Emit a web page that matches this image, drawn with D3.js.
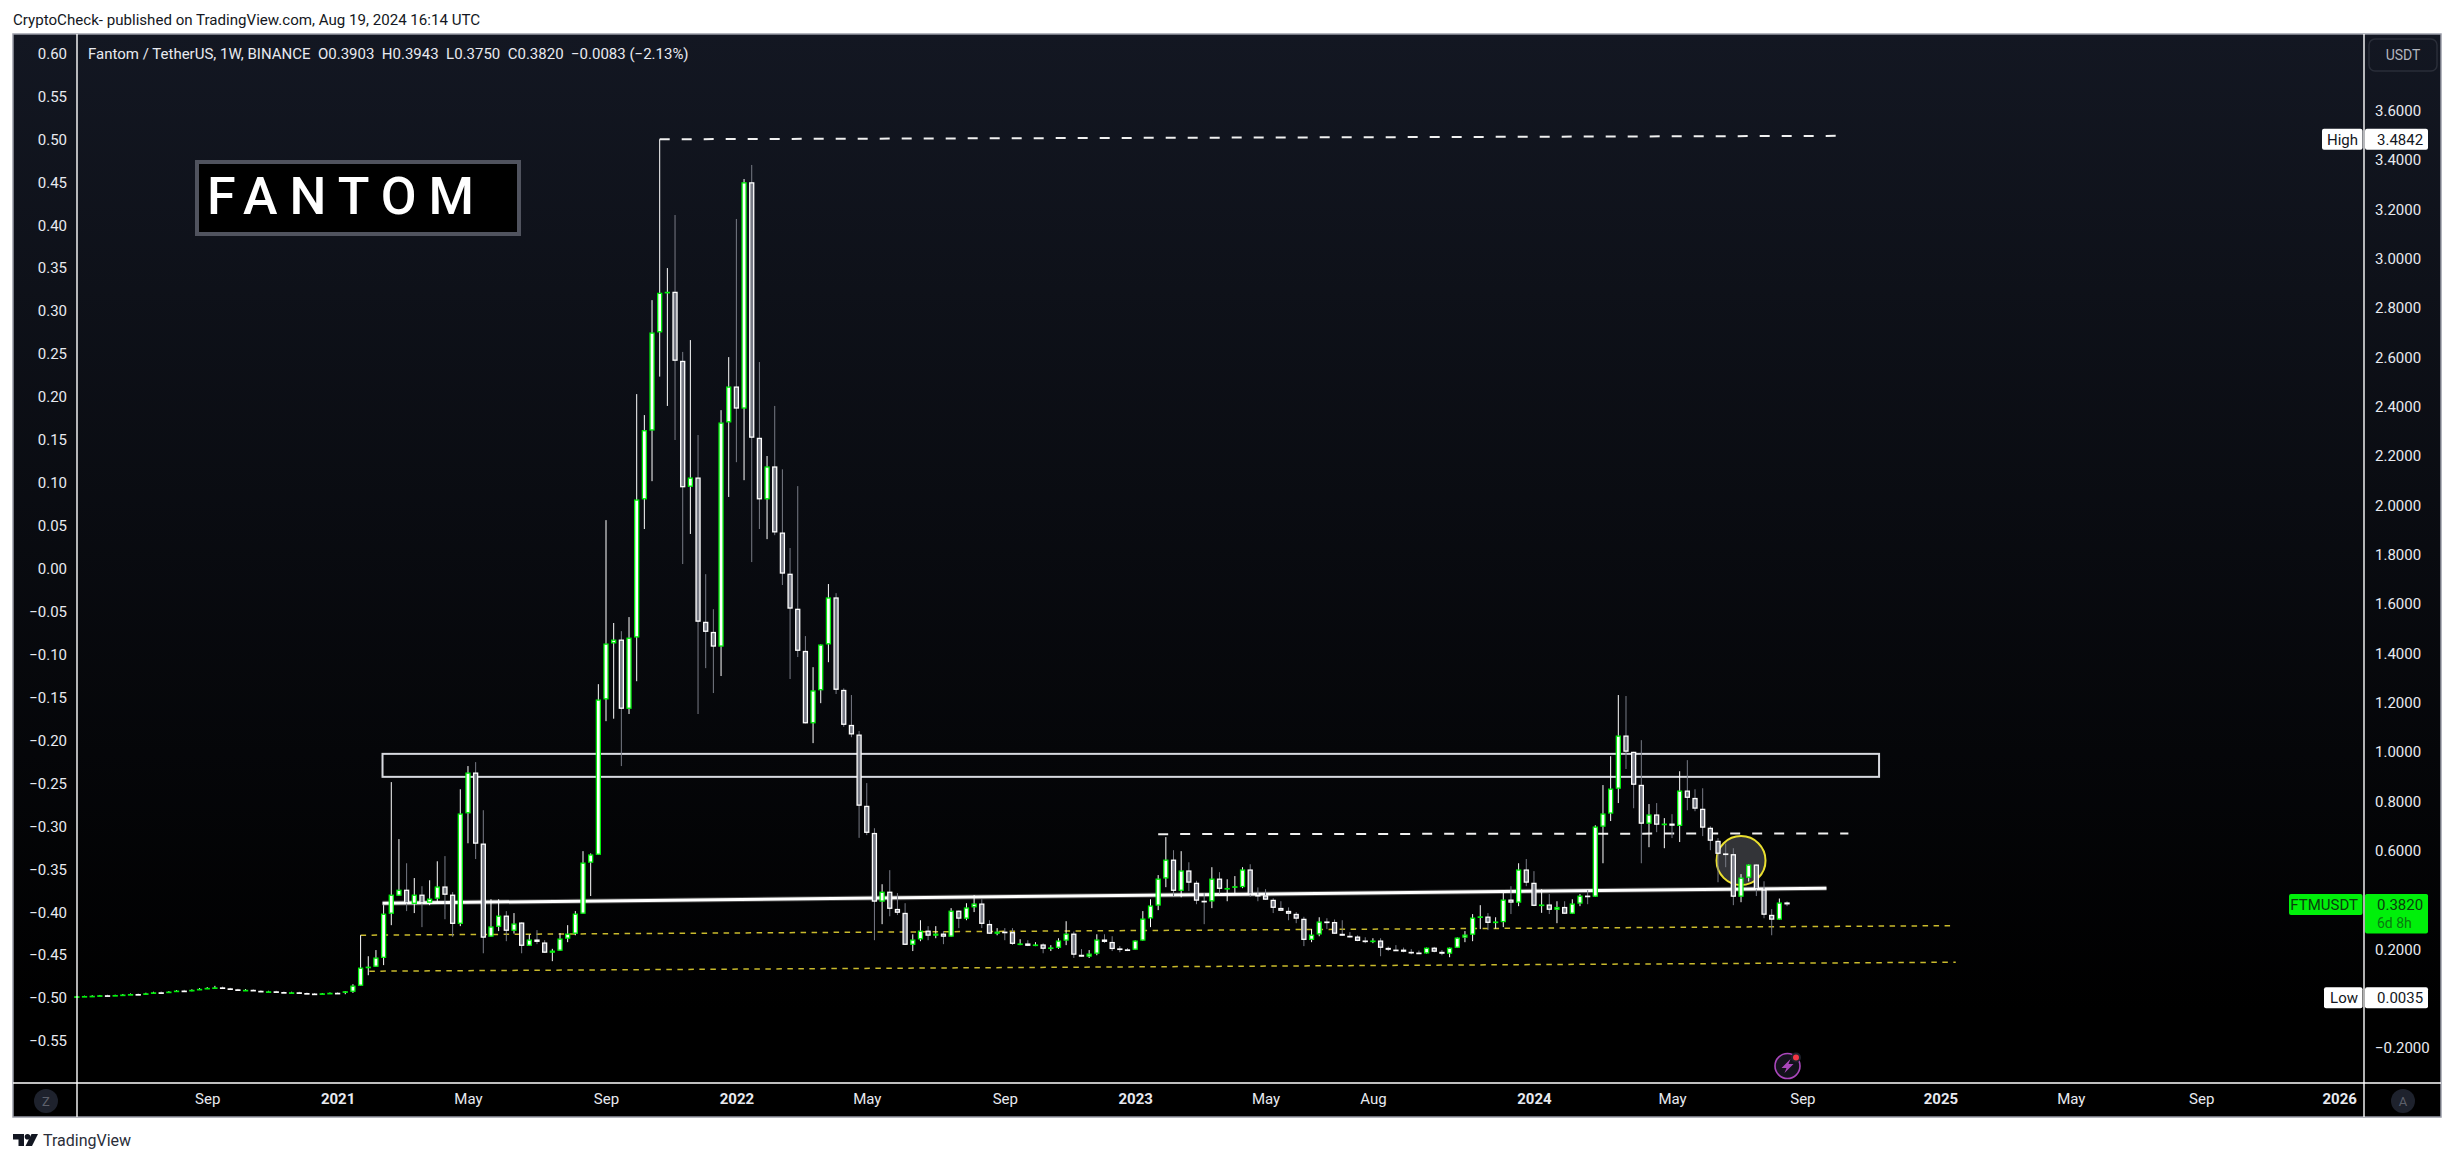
<!DOCTYPE html>
<html>
<head>
<meta charset="utf-8">
<title>Fantom / TetherUS</title>
<script src="https://cdn.jsdelivr.net/npm/d3@7"></script>
<style>
  html, body { margin: 0; padding: 0; background: #fff; }
  svg { display: block; }
  text { font-family: Roboto, "Noto Sans", sans-serif; }
</style>
</head>
<body>
<svg id="chart" width="2454" height="1162"></svg>
<script>
// weekly candles, first one is the week of 2020-05-11
const firstWeek = new Date(Date.UTC(2020, 4, 11));

const opens = [
  .008,.010,.011,.012,.014,.013,.015,.017,.019,.018,.022,.026,.025,.029,.033,.031,.036,.040,.044,.046,.042,.038,.035,.036,.032,.029,.030,.027,.025,.026,.023,.021,.020,.022,.024,
  .0235,.0276,.0519,.125,.129,.165,.344,.417,.442,.384,.422,.389,.405,.455,.422,.303,.751,.917,.629,.251,.291,.337,.275,.309,.214,.240,.228,.186,.194,.243,.263,.344,.551,.583,
  1.213,1.440,1.456,1.175,1.464,2.024,2.303,2.701,2.862,2.866,2.586,2.075,2.113,1.528,1.487,1.427,2.336,2.482,2.392,3.310,2.274,2.024,2.158,1.890,1.723,1.581,1.410,1.116,1.250,1.436,1.627,1.252,1.110,
  1.071,.782,.672,.393,.434,.364,.348,.218,.240,.276,.255,.264,.251,.357,.324,.370,.386,.303,.263,.272,.270,.222,.224,.218,.220,.206,.206,.235,.264,.178,.170,.182,.240,.230,.204,.200,.198,.235,.325,.377,.487,.564,.437,.520,.470,.397,.394,
  .487,.445,.453,.452,.524,.421,.419,.401,.368,.356,.344,.324,.238,.260,.313,.311,.263,.255,.252,.236,.234,.236,.206,.199,.199,.190,.187,.183,.207,.190,.182,.206,.247,.259,.329,.333,.307,.310,.402,.389,.524,
  .470,.380,.382,.360,.372,.344,.385,.418,.413,.697,.750,.851,1.067,1.001,.867,.709,.747,.708,.710,.700,.844,.814,.770,.693,.640,.589,.586,.413,.490,.544,.443,.340,.320,.3903
];
const highs = [
  .011,.012,.014,.015,.016,.016,.019,.021,.021,.024,.028,.029,.031,.035,.036,.038,.043,.047,.052,.049,.044,.040,.039,.038,.034,.032,.032,.029,.028,.028,.025,.023,.023,.025,.026,
  .031,.0586,.2573,.172,.197,.379,.878,.647,.549,.489,.456,.480,.557,.578,.432,.849,.943,.959,.764,.403,.403,.355,.347,.309,.260,.278,.237,.202,.266,.298,.355,.598,.589,1.275,
  1.940,1.523,1.490,1.547,2.451,2.366,2.832,3.4842,2.962,3.177,2.622,2.670,2.285,1.721,1.579,2.386,2.601,3.161,3.323,3.380,2.581,2.200,2.403,2.146,1.827,2.078,1.470,1.344,1.436,1.681,1.644,1.258,1.231,
  1.085,.874,.691,.464,.521,.428,.387,.261,.318,.294,.294,.274,.367,.357,.387,.420,.403,.318,.286,.286,.286,.241,.237,.229,.224,.217,.245,.314,.272,.201,.197,.261,.261,.253,.213,.205,.236,.355,.403,.501,.655,.602,.598,.553,.478,.428,.533,
  .513,.484,.497,.533,.545,.451,.444,.407,.395,.370,.351,.332,.282,.330,.326,.321,.318,.270,.257,.249,.245,.245,.211,.217,.207,.201,.195,.207,.210,.197,.207,.248,.274,.343,.379,.347,.330,.429,.456,.549,.566,
  .517,.444,.424,.395,.395,.403,.424,.440,.703,.866,.983,1.231,1.227,1.001,1.048,.789,.793,.732,.748,.922,.967,.849,.853,.699,.651,.629,.610,.505,.544,.544,.476,.363,.406,.3943
];
const lows = [
  .0035,.009,.010,.011,.012,.012,.014,.016,.017,.017,.021,.024,.024,.028,.030,.030,.035,.039,.042,.040,.037,.033,.033,.031,.028,.028,.026,.024,.024,.022,.020,.019,.019,.021,.022,
  .018,.0235,.0519,.095,.129,.136,.298,.417,.355,.347,.290,.379,.386,.322,.251,.294,.630,.566,.184,.251,.274,.233,.264,.184,.214,.221,.186,.152,.194,.229,.257,.344,.416,.583,
  1.125,1.135,.943,1.154,1.287,1.904,2.098,2.522,2.403,2.265,1.762,1.884,1.154,1.340,1.239,1.308,2.034,2.175,2.102,1.770,1.904,1.863,1.879,1.677,1.296,1.385,1.116,1.036,1.198,1.364,1.235,1.102,1.060,
  .652,.663,.237,.302,.334,.339,.218,.193,.233,.237,.245,.221,.251,.286,.318,.351,.286,.263,.257,.237,.218,.217,.213,.213,.184,.193,.202,.217,.165,.170,.165,.176,.226,.193,.188,.193,.198,.235,.290,.359,.452,.416,.411,.436,.383,.302,.367,
  .426,.395,.420,.448,.413,.395,.401,.347,.356,.318,.306,.213,.229,.253,.282,.263,.255,.248,.233,.225,.225,.172,.193,.196,.188,.180,.182,.183,.188,.176,.168,.206,.229,.233,.282,.278,.284,.290,.343,.375,.456,
  .375,.348,.343,.306,.344,.344,.375,.383,.413,.549,.720,.793,.931,.772,.549,.614,.675,.610,.651,.635,.764,.760,.659,.602,.472,.533,.379,.391,.475,.416,.326,.257,.320,.3750
];
const closes = [
  .010,.011,.012,.014,.013,.015,.017,.019,.018,.022,.026,.025,.029,.033,.031,.036,.040,.044,.046,.042,.038,.035,.036,.032,.029,.030,.027,.025,.026,.023,.021,.020,.022,.024,.023,
  .0303,.0532,.1262,.130,.167,.345,.422,.442,.386,.422,.386,.406,.455,.421,.303,.751,.917,.628,.247,.293,.337,.275,.305,.214,.240,.230,.186,.195,.244,.264,.345,.552,.585,1.213,
  1.440,1.456,1.175,1.464,2.024,2.305,2.701,2.862,2.866,2.586,2.073,2.113,1.528,1.487,1.427,2.336,2.482,2.392,3.310,2.274,2.024,2.158,1.890,1.723,1.581,1.410,1.116,1.250,1.436,1.627,1.252,1.110,1.071,
  .782,.672,.393,.434,.364,.348,.218,.240,.276,.255,.264,.251,.357,.324,.370,.386,.303,.263,.272,.270,.222,.224,.214,.220,.202,.208,.236,.264,.178,.170,.183,.240,.230,.201,.202,.198,.236,.325,.378,.487,.564,.437,.520,.470,.397,.394,.487,
  .445,.449,.456,.524,.422,.419,.401,.368,.356,.344,.324,.238,.260,.313,.311,.263,.255,.253,.234,.234,.236,.206,.198,.197,.190,.189,.184,.207,.190,.182,.207,.248,.260,.329,.334,.307,.313,.402,.389,.524,.470,
  .376,.382,.360,.372,.344,.386,.418,.415,.698,.751,.852,1.067,1.001,.867,.709,.747,.705,.710,.701,.844,.814,.770,.693,.640,.587,.586,.413,.491,.544,.443,.340,.320,.390,.3820
];

// left price scale and right price scale labels
const leftTicks = [0.60,0.55,0.50,0.45,0.40,0.35,0.30,0.25,0.20,0.15,0.10,0.05,0.00,-0.05,-0.10,-0.15,-0.20,-0.25,-0.30,-0.35,-0.40,-0.45,-0.50,-0.55];
const rightTicks = [3.6,3.4,3.2,3.0,2.8,2.6,2.4,2.2,2.0,1.8,1.6,1.4,1.2,1.0,0.8,0.6,0.2,-0.2];

// time axis
const timeTickDates = ["2020-09-07","2021-01-04","2021-05-03","2021-09-06","2022-01-03","2022-05-02","2022-09-05","2023-01-02","2023-05-01","2023-08-07","2024-01-01","2024-05-06","2024-09-02","2025-01-06","2025-05-05","2025-09-01","2026-01-05"];
const timeTickLabels = ["Sep","2021","May","Sep","2022","May","Sep","2023","May","Aug","2024","May","Sep","2025","May","Sep","2026"];

// drawings on the chart, as [date, price]
const highDash = [["2021-10-25",3.4842],["2024-10-03",3.498]];
const midDash = [["2023-01-23",0.667],["2024-10-14",0.670]];
const supportLine = [["2021-02-14",0.3871],["2024-09-24",0.4479]];
const yellowUpper = [["2021-01-25",0.2573],["2025-01-15",0.2959]];
const yellowLower = [["2021-02-02",0.1114],["2025-01-20",0.1478]];
const zoneBox = [["2021-02-14",0.9925],["2024-11-11",0.8993]];
const circleSpot = ["2024-07-08",0.56];

const svg = d3.select("#chart");
const parseDay = d3.utcParse("%Y-%m-%d");

const panel = {left: 13, top: 34, right: 2441, bottom: 1117, axisLeft: 77, axisRight: 2364, axisBottom: 1083};

const x = d3.scaleUtc()
  .domain([parseDay("2021-01-04"), parseDay("2026-01-05")])
  .range([337.6, 2339.2]);
const y = d3.scaleLinear().domain([3.6, -0.2]).range([110.7, 1048]);
const yLeft = d3.scaleLinear().domain([0.6, -0.55]).range([53.5, 1041]);

const candles = opens.map((o, i) => ({
  date: d3.utcMonday.offset(firstWeek, i),
  o, h: highs[i], l: lows[i], c: closes[i],
  up: closes[i] >= o
}));

// background
const defs = svg.append("defs");
const grad = defs.append("linearGradient")
  .attr("id", "bg")
  .attr("gradientUnits", "userSpaceOnUse")
  .attr("x1", 0).attr("x2", 0).attr("y1", panel.top).attr("y2", 1010);
grad.append("stop").attr("offset", 0).attr("stop-color", "#131722");
grad.append("stop").attr("offset", 1).attr("stop-color", "#000000");

svg.append("rect")
  .attr("x", panel.left).attr("y", panel.top)
  .attr("width", panel.right - panel.left).attr("height", panel.bottom - panel.top)
  .attr("fill", "url(#bg)");

// header
svg.append("text")
  .attr("x", 13).attr("y", 25)
  .attr("font-size", 15.1).attr("fill", "#131722")
  .text("CryptoCheck- published on TradingView.com, Aug 19, 2024 16:14 UTC");

// chart legend
svg.append("text")
  .attr("x", 88).attr("y", 59)
  .attr("font-size", 15).attr("fill", "#e8eaf0")
  .style("white-space", "pre")
  .text("Fantom / TetherUS, 1W, BINANCE  O0.3903  H0.3943  L0.3750  C0.3820  \u22120.0083 (\u22122.13%)");

// FANTOM box
svg.append("rect")
  .attr("x", 197).attr("y", 162).attr("width", 322).attr("height", 72)
  .attr("fill", "#000").attr("stroke", "#50535e").attr("stroke-width", 4);
svg.append("text")
  .attr("x", 207).attr("y", 214)
  .attr("font-size", 52).attr("font-weight", 500).attr("fill", "#fff")
  .style("letter-spacing", "12px")
  .text("FANTOM");

const drawLine = (pts, color, width, dash) => svg.append("line")
  .attr("x1", x(parseDay(pts[0][0]))).attr("y1", y(pts[0][1]))
  .attr("x2", x(parseDay(pts[1][0]))).attr("y2", y(pts[1][1]))
  .attr("stroke", color).attr("stroke-width", width)
  .attr("stroke-dasharray", dash || null);

// drawings go under the candles
drawLine(yellowUpper, "#c9ba2c", 1.5, "5.5,5.5");
drawLine(yellowLower, "#c9ba2c", 1.5, "5.5,5.5");
drawLine(highDash, "#f0f0f0", 2, "10,12");
drawLine(midDash, "#f0f0f0", 2, "10,12");

svg.append("rect")
  .attr("x", x(parseDay(zoneBox[0][0]))).attr("y", y(zoneBox[0][1]))
  .attr("width", x(parseDay(zoneBox[1][0])) - x(parseDay(zoneBox[0][0])))
  .attr("height", y(zoneBox[1][1]) - y(zoneBox[0][1]))
  .attr("fill", "none").attr("stroke", "#d8dae0").attr("stroke-width", 2);

drawLine(supportLine, "#444", 5);
drawLine(supportLine, "#fff", 3);

svg.append("circle")
  .attr("cx", x(parseDay(circleSpot[0]))).attr("cy", y(circleSpot[1])).attr("r", 24.5)
  .attr("fill", "#333438").attr("stroke", "#eadf2f").attr("stroke-width", 2);

// candles
const bodyStroke = 1.3;
const candleG = svg.append("g");
candleG.selectAll("line.wick")
  .data(candles)
  .join("line")
  .attr("class", "wick")
  .attr("x1", d => x(d.date)).attr("x2", d => x(d.date))
  .attr("y1", d => y(d.h)).attr("y2", d => y(d.l))
  .attr("stroke", d => d.up ? "#ffffff" : "#787b86")
  .attr("stroke-width", 1);
candleG.selectAll("rect.body")
  .data(candles)
  .join("rect")
  .attr("class", "body")
  .attr("x", d => x(d.date) - 2)
  .attr("width", 4)
  .attr("y", d => y(Math.max(d.o, d.c)) + bodyStroke / 2)
  .attr("height", d => Math.max(Math.abs(y(d.o) - y(d.c)) - bodyStroke, 0.4))
  .attr("fill", d => d.up ? "#ffffff" : "#787b86")
  .attr("stroke", d => d.up ? "#00f00a" : "#ffffff")
  .attr("stroke-width", bodyStroke);

// axes
const axisLeft = svg.append("g")
  .attr("transform", `translate(${panel.axisLeft - 10},0)`)
  .call(d3.axisLeft(yLeft).tickValues(leftTicks).tickSize(0).tickPadding(0).tickFormat(d3.format(".2f")));
const axisRight = svg.append("g")
  .attr("transform", `translate(${panel.axisRight},0)`)
  .call(d3.axisRight(y).tickValues(rightTicks).tickSize(0).tickPadding(11).tickFormat(d3.format(".4f")));
const axisBottom = svg.append("g")
  .attr("transform", `translate(0,${panel.axisBottom})`)
  .call(d3.axisBottom(x).tickValues(timeTickDates.map(parseDay)).tickSize(0).tickPadding(10)
    .tickFormat((d, i) => timeTickLabels[i]));
[axisLeft, axisRight, axisBottom].forEach(a => {
  a.select(".domain").remove();
  a.attr("font-family", null).attr("font-size", null);
  a.selectAll("text").attr("font-size", 15).attr("fill", "#e8eaf0");
});
axisBottom.selectAll("text")
  .attr("font-weight", (d, i) => /^\d/.test(timeTickLabels[i]) ? 700 : 400);

// panel frame and the white pane separators
svg.append("rect")
  .attr("x", panel.left).attr("y", panel.top)
  .attr("width", panel.right - panel.left).attr("height", panel.bottom - panel.top)
  .attr("fill", "none").attr("stroke", "#9a9da8").attr("stroke-width", 1.5);
[[panel.axisLeft, panel.top, panel.axisLeft, panel.bottom],
 [panel.axisRight, panel.top, panel.axisRight, panel.bottom],
 [panel.left, panel.axisBottom, panel.right, panel.axisBottom]].forEach(s => {
  svg.append("line")
    .attr("x1", s[0]).attr("y1", s[1]).attr("x2", s[2]).attr("y2", s[3])
    .attr("stroke", "#fff").attr("stroke-width", 1.4);
});

// USDT button
svg.append("rect")
  .attr("x", 2369).attr("y", 39).attr("width", 68).attr("height", 32).attr("rx", 6)
  .attr("fill", "none").attr("stroke", "#2a2e39").attr("stroke-width", 1.5);
svg.append("text").attr("x", 2403).attr("y", 60).attr("text-anchor", "middle")
  .attr("font-size", 14).attr("fill", "#b2b5be").text("USDT");

// price tags
function priceTag(name, value, price, bg, fg, labelLeft) {
  const py = y(price);
  svg.append("rect").attr("x", labelLeft).attr("y", py - 10.5)
    .attr("width", panel.axisRight - 1.5 - labelLeft).attr("height", 21).attr("rx", 2).attr("fill", bg);
  svg.append("text").attr("x", panel.axisRight - 6).attr("y", py + 5.5).attr("text-anchor", "end")
    .attr("font-size", 15).attr("fill", fg).text(name);
  svg.append("rect").attr("x", panel.axisRight + 1).attr("y", py - 10.5)
    .attr("width", 63).attr("height", 21).attr("rx", 2).attr("fill", bg);
  svg.append("text").attr("x", 2377).attr("y", py + 5.5)
    .attr("font-size", 15).attr("fill", fg).text(value);
}
priceTag("High", "3.4842", 3.4842, "#ffffff", "#131722", 2322);
priceTag("Low", "0.0035", 0.0035, "#ffffff", "#131722", 2324);
svg.append("rect").attr("x", panel.axisRight + 1).attr("y", y(0.382) - 10)
  .attr("width", 63).attr("height", 39).attr("rx", 2).attr("fill", "#00f00a");
priceTag("FTMUSDT", "0.3820", 0.382, "#00f00a", "#0b3d0e", 2289);
svg.append("text").attr("x", 2377).attr("y", y(0.382) + 24)
  .attr("font-size", 14).attr("fill", "#0a7a10").text("6d 8h");

// round buttons at the corners of the time axis
[[46, "Z"], [2403, "A"]].forEach(b => {
  svg.append("circle").attr("cx", b[0]).attr("cy", 1101).attr("r", 12).attr("fill", "#1e222d");
  svg.append("text").attr("x", b[0]).attr("y", 1106).attr("text-anchor", "middle")
    .attr("font-size", 13).attr("fill", "#5d606b").text(b[1]);
});

// lightning badge
const badge = svg.append("g").attr("transform", "translate(1787.5,1066)");
badge.append("circle").attr("r", 12.5).attr("fill", "#14121c").attr("stroke", "#ab47bc").attr("stroke-width", 1.6);
badge.append("path").attr("d", "M3,-7 L-6,2 L-1,2 L-3,7 L6,-2 L1,-2 Z").attr("fill", "#ab47bc");
badge.append("circle").attr("cx", 8.5).attr("cy", -8.5).attr("r", 5).attr("fill", "#1e222d");
badge.append("circle").attr("cx", 8.5).attr("cy", -8.5).attr("r", 3).attr("fill", "#f23645");

// TradingView mark
const mark = svg.append("g").attr("transform", "translate(13,1134)").attr("fill", "#131722");
mark.append("path").attr("d", "M0,0 H11 V12 H5.5 V5.5 H0 Z");
mark.append("circle").attr("cx", 14.5).attr("cy", 2.8).attr("r", 2.8);
mark.append("path").attr("d", "M18.5,0 H25 L19,12 H12.5 Z");
svg.append("text").attr("x", 43).attr("y", 1146)
  .attr("font-size", 16).attr("fill", "#2a2e39").text("TradingView");
</script>
</body>
</html>
